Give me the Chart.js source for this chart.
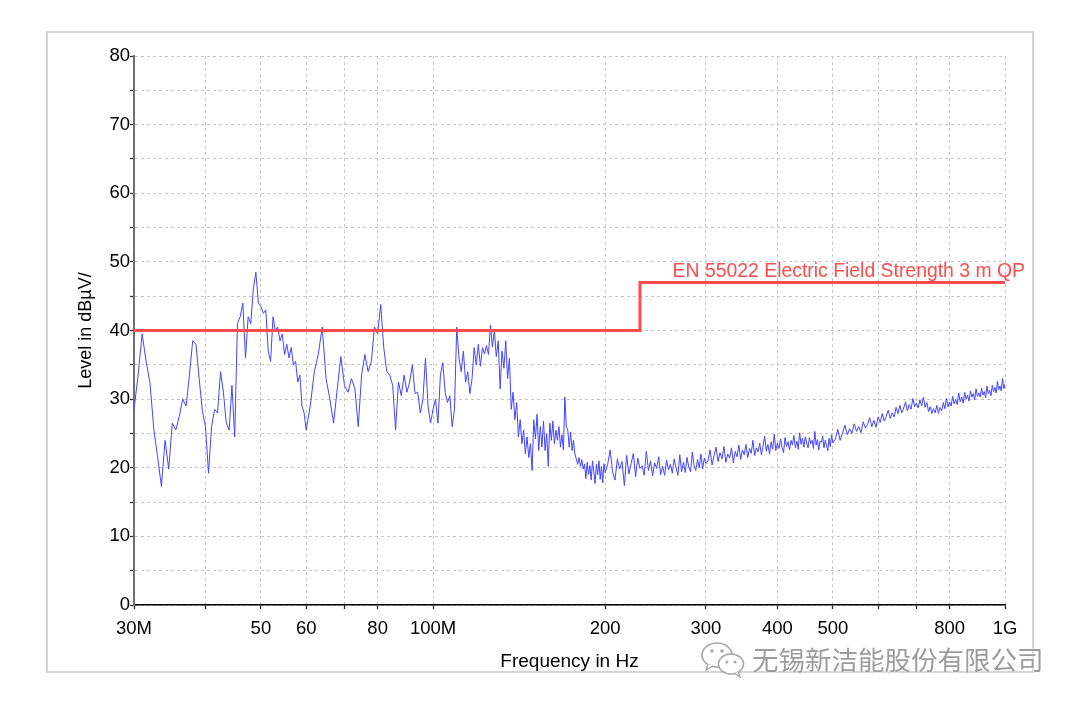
<!DOCTYPE html>
<html>
<head>
<meta charset="utf-8">
<script src="https://cdn.jsdelivr.net/npm/chart.js@4/dist/chart.umd.min.js"></script>
<style>
  html, body { margin: 0; padding: 0; background: #ffffff; }
  #wrap { position: relative; width: 1080px; height: 705px; overflow: hidden; }
  #frame { position: absolute; left: 46px; top: 31px; width: 988px; height: 642px;
           border: 2px solid #d4d4d4; box-sizing: border-box; }
  #cv { position: absolute; left: 0; top: 0; width: 1080px; height: 705px; }
  #wm { position: absolute; left: 700px; top: 640px; height: 38px; display: flex; align-items: center; }
  #wm span { font-family: "Noto Sans CJK SC", sans-serif; font-size: 26.5px; line-height: 30px;
             color: #9c9c9c; text-shadow: 0 0 2px #ffffff, 0 0 2px #ffffff; margin-left: 6px; }
</style>
</head>
<body>
<div id="wrap">
  <div id="frame"></div>
  <div id="cv"><canvas id="c"></canvas></div>
  <div id="wm">
    <svg width="46" height="38" viewBox="0 0 46 38">
      <ellipse cx="17" cy="15" rx="15" ry="12" fill="#ffffff" stroke="#a8a8a8" stroke-width="1.6"/>
      <path d="M8 24 L6 30 L13 26" fill="#ffffff" stroke="#a8a8a8" stroke-width="1.4"/>
      <circle cx="12" cy="11" r="1.8" fill="#a8a8a8"/>
      <circle cx="22" cy="11" r="1.8" fill="#a8a8a8"/>
      <ellipse cx="31" cy="24" rx="12.5" ry="10" fill="#ffffff" stroke="#a8a8a8" stroke-width="1.6"/>
      <path d="M38 32 L40 37 L34 33" fill="#ffffff" stroke="#a8a8a8" stroke-width="1.4"/>
      <circle cx="27" cy="22" r="1.5" fill="#a8a8a8"/>
      <circle cx="35" cy="22" r="1.5" fill="#a8a8a8"/>
    </svg>
    <span>无锡新洁能股份有限公司</span>
  </div>
</div>
<script>
// ---------- data ----------
const freqs = [
  30,30.5,31,31.5,32,32.5,33,33.5,34,34.5,
  35,35.5,36,36.5,37,37.5,38,38.5,39,39.5,
  40,40.5,41,41.5,42,42.5,43,43.5,44,44.5,
  45,45.5,46,46.5,47,47.5,48,48.5,49,49.5,
  50,50.5,51,51.5,52,52.5,53,53.5,54,54.5,
  55,55.5,56,56.5,57,57.5,58,58.5,59,59.5,
  60,
  61,62,63,64,65,66,67,68,69,70,
  71,72,73,74,75,76,77,78,79,80,
  81,82,83,84,85,86,87,88,89,90,
  91,92,93,94,95,96,97,98,99,100,
  101,102,103,104,105,106,107,108,109,110,
  111,112,113,114,115,116,117,118,119,120,
  121,122,123,124,125,126,127,128,129,130,
  131,132,133,134,135,136,137,138,139,140,
  141,142,143,144,145,146,147,148,149,150,
  151,152,153,154,155,156,157,158,159,160,
  161,162,163,164,165,166,167,168,169,170,
  171,172,173,174,175,176,177,178,179,180,
  181,182,183,184,185,186,187,188,189,190,
  191,192,193,194,195,196,197,198,199,200,
  202,204,206,208,210,212,214,216,218,220,
  222,224,226,228,230,232,234,236,238,240,
  242,244,246,248,250,252,254,256,258,260,
  262,264,266,268,270,272,274,276,278,280,
  282,284,286,288,290,292,294,296,298,300,
  302.5,305,307.5,310,312.5,315,317.5,320,322.5,325,
  327.5,330,332.5,335,337.5,340,342.5,345,347.5,350,
  352.5,355,357.5,360,362.5,365,367.5,370,372.5,375,
  377.5,380,382.5,385,387.5,390,392.5,395,397.5,400,
  402.5,405,407.5,410,412.5,415,417.5,420,422.5,425,
  427.5,430,432.5,435,437.5,440,442.5,445,447.5,450,
  452.5,455,457.5,460,462.5,465,467.5,470,472.5,475,
  477.5,480,482.5,485,487.5,490,492.5,495,497.5,500,
  505,510,515,520,525,530,535,540,545,550,
  555,560,565,570,575,580,585,590,595,600,
  605,610,615,620,625,630,635,640,645,650,
  655,660,665,670,675,680,685,690,695,700,
  705,710,715,720,725,730,735,740,745,750,
  755,760,765,770,775,780,785,790,795,800,
  805,810,815,820,825,830,835,840,845,850,
  855,860,865,870,875,880,885,890,895,900,
  905,910,915,920,925,930,935,940,945,950,
  955,960,965,970,975,980,985,990,995,1000
];
const levels = [
  28.5,33.5,39.5,35.5,32.3,25.5,21.5,17.3,24,19.8,
  26.5,25.5,27.5,30,29,33.5,38.5,38,33,28.3,
  26,19.2,26,28.5,28,34,31,26.5,25.5,32,
  24.5,41,42,44,36,42,41,46,48.5,44,
  43.5,42.5,43,37,35.5,42,40,40.5,38.5,39.5,
  36.5,38,36,37.5,35,35.5,32.5,33.5,29,28,
  25.5,
  29,34,36.5,40.5,33,30,26.5,31.5,36.2,32,
  31,33,31.5,26,33.5,36.5,34,35.5,40.5,39.5,
  43.8,37.5,34,33.5,32,25.5,32.5,30.5,33.5,31,
  32.5,35,30.8,31,28,30,36,29,26.5,28.5,
  30,26.5,33.5,35.3,31,29.5,30.5,26,28.5,40.5,
  36,34,37,32.5,34,30.8,33,37.5,35,38,
  34.8,37.5,36.6,37.8,36.5,40.8,37.6,40,36.2,38.5,
  31.5,37,34.5,38.5,33,36,28.5,31,27,29.5,
  24.5,27,23.5,25.5,22,24.5,21.5,23.5,19.6,27,
  24.2,27.8,22.5,26,23,26.8,22.5,25,20.2,26.5,
  24,26.8,23.5,25.5,24,26,23,24.8,22.6,30.3,
  26,25.5,23,25.2,22.5,24,22,21.3,20.5,21.5,
  20.2,21.2,19.8,20.5,18.4,20.8,19,20.3,18.2,21,
  19.4,17.7,20.5,19,21,18.3,20.2,17.8,20.6,19.3,
  20.5,22.6,19.4,18.2,21.3,19.8,20.9,17.4,21.8,19.1,
  20.6,22.1,18.7,21.4,19.9,20.3,18.9,22.4,19.6,21.0,
  18.8,20.7,19.9,21.6,19.0,20.2,18.9,21.1,19.7,20.5,
  19.2,21.3,20.0,18.9,21.9,19.4,20.8,19.3,21.5,20.1,
  19.4,22.3,20.3,19.6,21.2,20.0,22.0,19.8,21.4,20.6,
  21.0,22.6,20.4,21.8,23.0,20.9,22.2,21.3,23.1,20.8,
  22.0,21.4,22.9,20.7,22.4,21.6,23.3,21.2,22.6,21.9,
  23.4,21.5,22.8,22.1,24.0,21.8,22.9,22.3,23.6,21.9,
  23.1,24.6,22.4,23.4,22.0,23.8,22.7,24.9,22.5,23.6,
  22.8,24.2,23.0,22.2,24.4,23.1,23.8,22.6,24.0,23.3,
  24.7,22.9,23.9,22.7,25.1,23.4,24.3,23.0,24.5,23.6,
  22.9,24.4,23.5,24.0,22.8,25.3,23.3,24.1,22.6,23.9,
  23.7,24.6,22.9,24.0,23.2,22.5,24.3,23.1,24.8,23.6,
  24.2,25.6,24.0,25.1,26.2,24.8,25.7,25.0,26.4,25.3,
  26.0,25.1,26.7,25.8,26.3,27.3,26.0,26.9,25.9,27.4,
  26.6,27.9,26.8,27.5,28.4,27.2,28.0,27.4,28.8,27.9,
  29.1,28.0,28.7,29.6,28.3,29.2,28.5,30.1,28.9,29.4,
  28.7,29.9,29.0,30.3,28.8,29.5,28.2,28.9,27.9,28.6,
  28.0,29.1,27.9,28.8,28.3,29.5,28.6,30.1,28.9,29.6,
  29.0,30.4,29.3,30.0,29.2,30.9,29.6,30.3,29.4,31.0,
  30.0,30.6,29.7,31.2,30.3,30.8,29.9,31.5,30.4,30.9,
  30.3,31.6,30.6,31.1,30.2,31.9,30.8,31.3,30.5,32.0,
  31.1,31.7,30.9,32.6,31.4,31.9,31.2,33.0,31.5,32.2
];
const limitName = "EN 55022 Electric Field Strength 3 m QP";
const limitFreqs = [30, 230, 230, 1000];
const limitLevels = [40, 40, 47, 47];
const xTickValues = [30, 40, 50, 60, 70, 80, 100, 200, 300, 400, 500, 600, 700, 800, 1000];
const xTickLabels = ["30M", "", "50", "60", "", "80", "100M", "200", "300", "400", "500", "", "", "800", "1G"];
const yTickLabelsEvery = 10;
const xTitle = "Frequency in Hz";
const yTitle = "Level in dBµV/";

// ---------- chart ----------
const TRACE_COLOR = "rgb(68,68,255)";
const LIMIT_COLOR = "rgb(255,76,76)";
const FONT = '"Liberation Sans", Arial, sans-serif';

const traceData = freqs.map((f, i) => ({ x: f, y: levels[i] }));
const limitData = limitFreqs.map((f, i) => ({ x: f, y: limitLevels[i] }));

const limitLabelPlugin = {
  id: "limitLabel",
  afterDatasetsDraw(chart) {
    const { ctx, scales } = chart;
    const xs = scales.x, ys = scales.y;
    ctx.save();
    ctx.font = "19.4px " + FONT;
    ctx.fillStyle = LIMIT_COLOR;
    ctx.textAlign = "right";
    ctx.textBaseline = "alphabetic";
    ctx.fillText(limitName, xs.getPixelForValue(limitFreqs[limitFreqs.length - 1]) + 20,
                 ys.getPixelForValue(limitLevels[limitLevels.length - 1]) - 5);
    ctx.restore();
  }
};

new Chart(document.getElementById("c"), {
  type: "line",
  data: {
    datasets: [
      { data: traceData, borderColor: TRACE_COLOR, borderWidth: 1, pointRadius: 0, tension: 0, order: 2 },
      { data: limitData, borderColor: LIMIT_COLOR, borderWidth: 3, pointRadius: 0, tension: 0, order: 1 }
    ]
  },
  options: {
    responsive: true,
    maintainAspectRatio: false,
    animation: false,
    events: [],
    layout: { padding: { left: 71, top: 56, right: 75, bottom: 0 } },
    plugins: { legend: { display: false }, tooltip: { enabled: false }, title: { display: false } },
    scales: {
      x: {
        type: "logarithmic",
        min: 30,
        max: 1000,
        afterBuildTicks: (scale) => { scale.ticks = xTickValues.map(v => ({ value: v })); },
        afterFit: (scale) => { scale.height = 100; },
        ticks: {
          autoSkip: false, maxRotation: 0, minRotation: 0, padding: 9,
          color: "#000", font: { family: FONT, size: 18.5 },
          callback: (v, i) => xTickLabels[i]
        },
        grid: { color: "#c6c6c6", lineWidth: 1, tickColor: "#222", tickLength: 4, tickWidth: 1.3 },
        border: { display: true, color: "#000000", width: 1.4, dash: [3, 3] },
        title: { display: true, text: xTitle, color: "#000", font: { family: FONT, size: 19 },
                 padding: { top: 0, bottom: 31.6 } }
      },
      y: {
        type: "linear",
        min: 0,
        max: 80,
        afterFit: (scale) => { scale.width = 63; },
        ticks: {
          stepSize: 5, padding: 0, color: "#000", font: { family: FONT, size: 18.5 },
          callback: (v) => (v % yTickLabelsEvery === 0 ? String(v) : "")
        },
        grid: { color: "#c6c6c6", lineWidth: 1, tickColor: "#333", tickLength: 4, tickWidth: 1.3 },
        border: { display: true, color: "#707070", width: 2, dash: [3, 3] },
        title: { display: true, text: yTitle, color: "#000", font: { family: FONT, size: 18 },
                 padding: { top: 4, bottom: 0 } }
      }
    }
  },
  plugins: [limitLabelPlugin]
});
</script>
</body>
</html>
